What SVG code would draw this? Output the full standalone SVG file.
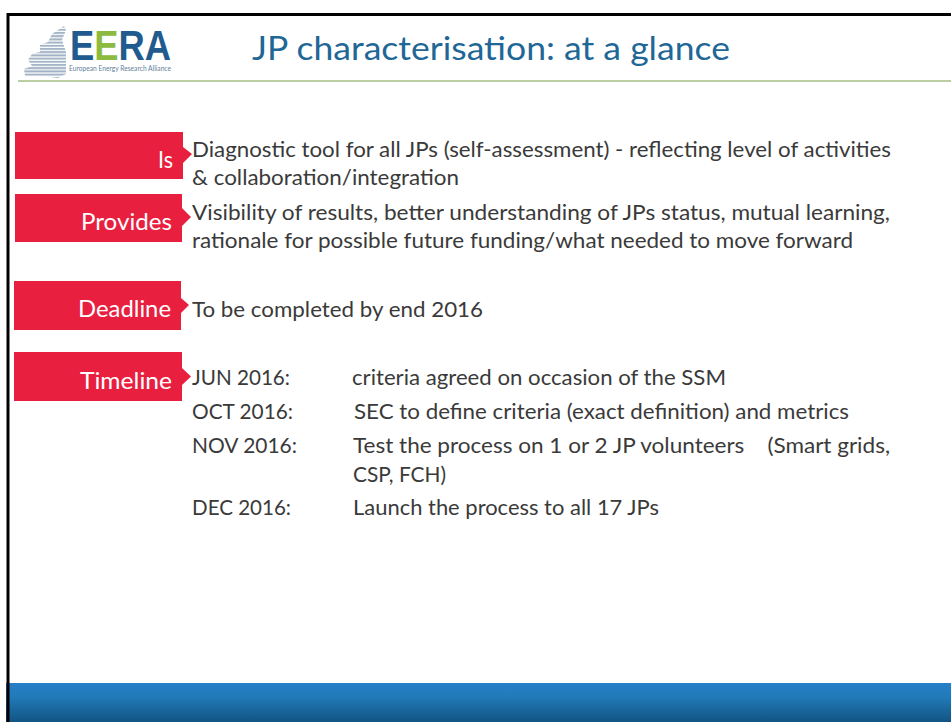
<svg xmlns="http://www.w3.org/2000/svg" width="951" height="722" viewBox="0 0 951 722">
<defs>
<linearGradient id="band" x1="0" y1="0" x2="0" y2="1"><stop offset="0" stop-color="#2480c8"/><stop offset="0.35" stop-color="#217ab9"/><stop offset="1" stop-color="#125483"/></linearGradient>
<pattern id="stripes" width="4" height="3.2" patternUnits="userSpaceOnUse"><rect width="4" height="2" fill="#a3b4c6"/></pattern>
</defs>
<style>
text{font-family:Lato,"Liberation Sans",sans-serif}
.b{font-size:21px;fill:#3a3a3a}
.l{font-size:24px;fill:#fff}
.tag{fill:#e81f3f}
</style>
<rect width="951" height="722" fill="#fff"/>
<rect x="6" y="683" width="945" height="39" fill="url(#band)"/>
<path d="M8 722V14.500H951" fill="none" stroke="#000" stroke-width="3"/>
<line x1="18" y1="81" x2="951" y2="81" stroke="#76a045" stroke-width="1"/>
<g id="logo">
<path d="M25 76L24 69L32 66L28 60L32 54L40 52L40 45L48 42L52 34L64 26L66 30L62 40L66 52L66 74L58 78L44 76Z" fill="url(#stripes)"/>
<text x="70" y="60" font-size="43" fill="#1f5b8e" textLength="101" lengthAdjust="spacingAndGlyphs" style="font-family:'Liberation Sans',sans-serif;font-weight:700"><tspan>E</tspan><tspan fill="#8dbb3f">E</tspan><tspan>RA</tspan></text>
<text x="69" y="71" font-size="7" fill="#5f7f9a" textLength="102" lengthAdjust="spacingAndGlyphs">European Energy Research Alliance</text>
</g>
<text id="title" x="252" y="60" font-size="32" fill="#1f6796" textLength="478" lengthAdjust="spacingAndGlyphs">JP characterisation: at a glance</text>
<g id="is"><path class="tag" d="M15 132H183V147L192 154L183 163V179H15Z"/><text class="l" x="158" y="168" textLength="15" lengthAdjust="spacingAndGlyphs">Is</text></g>
<g id="provides"><path class="tag" d="M15 194H182V208L191 217L182 226V242H15Z"/><text class="l" x="81" y="230" textLength="91" lengthAdjust="spacingAndGlyphs">Provides</text></g>
<g id="deadline"><path class="tag" d="M14 281H181V298L189 305L181 313V330H14Z"/><text class="l" x="78" y="317" textLength="93" lengthAdjust="spacingAndGlyphs">Deadline</text></g>
<g id="timeline"><path class="tag" d="M14 352H182V368L191 376.500L182 385V401H14Z"/><text class="l" x="80" y="389" textLength="92" lengthAdjust="spacingAndGlyphs">Timeline</text></g>
<g id="body">
<text class="b" x="192" y="157" textLength="699" lengthAdjust="spacingAndGlyphs">Diagnostic tool for all JPs (self-assessment) - reflecting level of activities</text>
<text class="b" x="192" y="185" textLength="267" lengthAdjust="spacingAndGlyphs">&amp; collaboration/integration</text>
<text class="b" x="192" y="220" textLength="698" lengthAdjust="spacingAndGlyphs">Visibility of results, better understanding of JPs status, mutual learning,</text>
<text class="b" x="192" y="248" textLength="661" lengthAdjust="spacingAndGlyphs">rationale for possible future funding/what needed to move forward</text>
<text class="b" x="192" y="317" textLength="291" lengthAdjust="spacingAndGlyphs">To be completed by end 2016</text>
<text class="b" x="192" y="385" textLength="98" lengthAdjust="spacingAndGlyphs">JUN 2016:</text>
<text class="b" x="352" y="385" textLength="374" lengthAdjust="spacingAndGlyphs">criteria agreed on occasion of the SSM</text>
<text class="b" x="192" y="419" textLength="101" lengthAdjust="spacingAndGlyphs">OCT 2016:</text>
<text class="b" x="354" y="419" textLength="495" lengthAdjust="spacingAndGlyphs">SEC to define criteria (exact definition) and metrics</text>
<text class="b" x="192" y="453" textLength="105" lengthAdjust="spacingAndGlyphs">NOV 2016:</text>
<text class="b" x="353" y="453" textLength="537" lengthAdjust="spacingAndGlyphs" xml:space="preserve">Test the process on 1 or 2 JP volunteers    (Smart grids,</text>
<text class="b" x="353" y="482" textLength="93" lengthAdjust="spacingAndGlyphs">CSP, FCH)</text>
<text class="b" x="192" y="515" textLength="99" lengthAdjust="spacingAndGlyphs">DEC 2016:</text>
<text class="b" x="353" y="515" textLength="306" lengthAdjust="spacingAndGlyphs">Launch the process to all 17 JPs</text>
</g>
</svg>
